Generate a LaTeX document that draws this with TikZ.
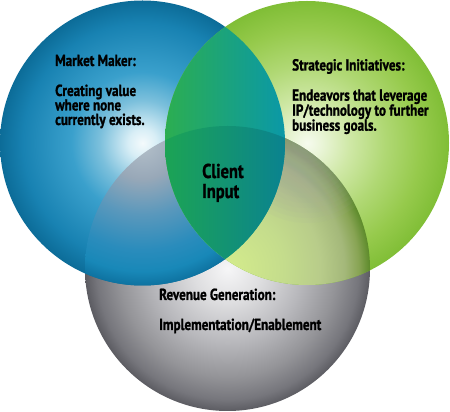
\documentclass[tikz,border=0pt]{standalone}
\usepackage{fontspec}
\newfontfamily\hand{PT Sans}[FakeStretch=0.82, BoldFeatures={FakeBold=1.2}]
% blue circle
\definecolor{bl0}{HTML}{F4FAFC}
\definecolor{bl1}{HTML}{D8EEF6}
\definecolor{bl2}{HTML}{7CC0DC}
\definecolor{bl3}{HTML}{3AA0CC}
\definecolor{bl4}{HTML}{1882B2}
\definecolor{bl5}{HTML}{0C6C98}
% green circle
\definecolor{gr0}{HTML}{F6FBEE}
\definecolor{gr1}{HTML}{EAF5D8}
\definecolor{gr2}{HTML}{CFE8A6}
\definecolor{gr3}{HTML}{B0D874}
\definecolor{gr4}{HTML}{96CA4C}
\definecolor{gr5}{HTML}{80BE36}
% gray circle
\definecolor{gy0}{HTML}{F6F6F7}
\definecolor{gy1}{HTML}{DEDEE0}
\definecolor{gy2}{HTML}{B8B8BC}
\definecolor{gy3}{HTML}{949498}
\definecolor{gy4}{HTML}{76767C}
\definecolor{gy5}{HTML}{5C5C62}
% blue over gray
\definecolor{bg0}{HTML}{B4C0CA}
\definecolor{bg1}{HTML}{98A8B8}
\definecolor{bg2}{HTML}{5A98BC}
\definecolor{bg3}{HTML}{2A8CBC}
\definecolor{bg4}{HTML}{1888B8}
\definecolor{bg5}{HTML}{0E72A0}
% green over gray
\definecolor{gg0}{HTML}{D4EC8C}
\definecolor{gg1}{HTML}{C4DC8C}
\definecolor{gg2}{HTML}{B8CC8A}
\definecolor{gg3}{HTML}{A4B87A}
\definecolor{gg4}{HTML}{88A454}
\definecolor{gg5}{HTML}{5C8A2A}
\definecolor{glowgray}{HTML}{A8AAA6}
% lens
\definecolor{lensL}{HTML}{2CAE50}
\definecolor{lensM}{HTML}{12A468}
\definecolor{lensR}{HTML}{0A98A8}
\definecolor{triL}{HTML}{1CA454}
\definecolor{triM}{HTML}{0E9870}
\definecolor{triR}{HTML}{0A8290}
\pgfdeclareradialshading{blueball}{\pgfpoint{0bp}{0bp}}{color(0bp)=(bl0); color(2.5bp)=(bl1); color(7.5bp)=(bl2); color(12.5bp)=(bl3); color(21bp)=(bl4); color(25bp)=(bl5); color(50bp)=(bl5)}
\pgfdeclareradialshading{greenball}{\pgfpoint{0bp}{0bp}}{color(0bp)=(gr0); color(2.5bp)=(gr1); color(7.5bp)=(gr2); color(13.75bp)=(gr3); color(20bp)=(gr4); color(25bp)=(gr5); color(50bp)=(gr5)}
\pgfdeclareradialshading{grayball}{\pgfpoint{0bp}{0bp}}{color(0bp)=(gy0); color(6bp)=(gy1); color(13bp)=(gy2); color(19bp)=(gy3); color(23bp)=(gy4); color(25bp)=(gy5); color(50bp)=(gy5)}
\pgfdeclareradialshading{bluegray}{\pgfpoint{0bp}{0bp}}{color(0bp)=(bg0); color(6.25bp)=(bg1); color(12.5bp)=(bg2); color(18.75bp)=(bg3); color(22.5bp)=(bg4); color(25bp)=(bg5); color(50bp)=(bg5)}
\pgfdeclareradialshading{greengray}{\pgfpoint{0bp}{0bp}}{color(0bp)=(gg0); color(10bp)=(gg1); color(16.25bp)=(gg2); color(20.5bp)=(gg3); color(23bp)=(gg4); color(25bp)=(gg5); color(50bp)=(gg5)}
\begin{document}
\begin{tikzpicture}[x=1pt,y=1pt,
  lbl/.style={anchor=base west, inner sep=0pt, font=\hand\bfseries\fontsize{16}{16}\selectfont},
  biglbl/.style={anchor=base west, inner sep=0pt, font=\hand\bfseries\fontsize{20}{20}\selectfont}]
\useasboundingbox (0,0) rectangle (450,412);
\fill[white] (0,0) rectangle (450,412);
\coordinate (cB) at (142.5,269);
\coordinate (cG) at (307,269);
\coordinate (cR) at (227.5,143.5);
% base circles
\shade[shading=grayball] (cR) circle[radius=142.5pt];
\shade[shading=blueball] (cB) circle[radius=142.5pt];
\shade[shading=greenball] (cG) circle[radius=142pt];
% blue over gray
\begin{scope}
  \clip (cR) circle[radius=142.5pt];
  \shade[shading=bluegray] (cB) circle[radius=142.5pt];
\end{scope}
% green over gray
\begin{scope}
  \clip (cG) circle[radius=142pt];
  \shade[shading=greengray] (cR) circle[radius=142.5pt];
  \clip (cR) circle[radius=142.5pt];
  \foreach \r in {80,75,...,10} \fill[glowgray, opacity=0.07] (cG) circle[radius=\r pt];
\end{scope}
% lens and centre
\begin{scope}
  \clip (cB) circle[radius=142.5pt];
  \clip (cG) circle[radius=142pt];
  \shade[left color=lensL, middle color=lensM, right color=lensR] (164,150) rectangle (286,392);
  \clip (cR) circle[radius=142.5pt];
  \shade[left color=triL, middle color=triM, right color=triR] (164,150) rectangle (286,392);
\end{scope}
% texts
\node[lbl] (mm) at (55,346) {Market Maker:};
\node[lbl] (mm1) at (55,316) {Creating value};
\node[lbl] (mm2) at (55,301.5) {where none};
\node[lbl] (mm3) at (55,287) {currently exists.};
\node[lbl] (si) at (292,341.5) {Strategic Initiatives:};
\node[lbl] (si1) at (292,311.3) {Endeavors that leverage};
\node[lbl] (si2) at (292,296.3) {IP/technology to further};
\node[lbl] (si3) at (292,281.3) {business goals.};
\node[biglbl] (ci1) at (202,234) {Client};
\node[biglbl] (ci2) at (202,214) {Input};
\node[lbl] (rg) at (159,112) {Revenue Generation:};
\node[lbl] (rg1) at (159,82) {Implementation/Enablement};
\end{tikzpicture}
\end{document}
